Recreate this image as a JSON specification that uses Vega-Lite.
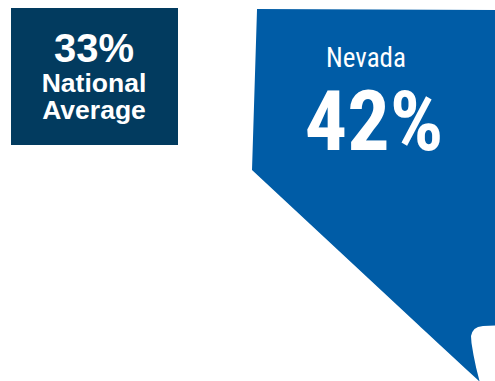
{
  "$schema": "https://vega.github.io/schema/vega-lite/v6.json",
  "width": 495,
  "height": 381,
  "autosize": {"type": "fit", "contains": "padding"},
  "padding": 0,
  "background": "white",
  "view": {"stroke": null},
  "datasets": {
    "badge": [{"name": "National Average", "left": 11, "right": 178, "top": 8, "bottom": 145}],
    "state": [
      {"v": 9, "west": 257, "east": 257},
      {"v": 10, "west": 257, "east": 495},
      {"v": 170, "west": 252, "east": 495},
      {"v": 325.5, "west": 419, "east": 495},
      {"v": 326, "west": 419.5, "east": 483},
      {"v": 327, "west": 420.5, "east": 478},
      {"v": 329, "west": 422.7, "east": 474.5},
      {"v": 332, "west": 426, "east": 472.3},
      {"v": 336, "west": 430.3, "east": 471},
      {"v": 343, "west": 437.8, "east": 471.5},
      {"v": 355, "west": 450.8, "east": 473.5},
      {"v": 368, "west": 464.8, "east": 476.2},
      {"v": 381, "west": 479, "east": 479.5}
    ],
    "headline": [{"text": "33%", "cx": 94, "base": 62}],
    "caption": [
      {"text": "National", "cx": 94, "base": 92},
      {"text": "Average", "cx": 94, "base": 119}
    ],
    "stateName": [{"text": "Nevada", "cx": 366, "base": 67}],
    "stateValue": [{"text": "42%", "cx": 374, "base": 150}]
  },
  "layer": [
    {
      "data": {"name": "badge"},
      "mark": {"type": "rect", "color": "#023b5f"},
      "encoding": {
        "x": {"field": "left", "type": "quantitative", "scale": {"domain": [0, 495], "nice": false, "zero": false}, "axis": null},
        "x2": {"field": "right"},
        "y": {"field": "top", "type": "quantitative", "scale": {"domain": [381, 0], "nice": false, "zero": false}, "axis": null},
        "y2": {"field": "bottom"}
      }
    },
    {
      "data": {"name": "state"},
      "mark": {"type": "area", "orient": "horizontal", "color": "#005ca6", "interpolate": "linear"},
      "encoding": {
        "y": {"field": "v", "type": "quantitative", "axis": null},
        "x": {"field": "west", "type": "quantitative", "axis": null},
        "x2": {"field": "east"}
      }
    },
    {
      "data": {"name": "headline"},
      "mark": {"type": "text", "font": "Liberation Sans", "fontWeight": "bold", "fontSize": 40, "color": "white", "baseline": "alphabetic", "align": "center"},
      "encoding": {
        "x": {"field": "cx", "type": "quantitative", "axis": null},
        "y": {"field": "base", "type": "quantitative", "axis": null},
        "text": {"field": "text"}
      }
    },
    {
      "data": {"name": "caption"},
      "mark": {"type": "text", "font": "Liberation Sans", "fontWeight": "bold", "fontSize": 26.5, "color": "white", "baseline": "alphabetic", "align": "center"},
      "encoding": {
        "x": {"field": "cx", "type": "quantitative", "axis": null},
        "y": {"field": "base", "type": "quantitative", "axis": null},
        "text": {"field": "text"}
      }
    },
    {
      "data": {"name": "stateName"},
      "mark": {"type": "text", "font": "Roboto Condensed", "fontSize": 27, "color": "white", "baseline": "alphabetic", "align": "center"},
      "encoding": {
        "x": {"field": "cx", "type": "quantitative", "axis": null},
        "y": {"field": "base", "type": "quantitative", "axis": null},
        "text": {"field": "text"}
      }
    },
    {
      "data": {"name": "stateValue"},
      "mark": {"type": "text", "font": "Roboto Condensed", "fontWeight": "bold", "fontSize": 84, "color": "white", "baseline": "alphabetic", "align": "center"},
      "encoding": {
        "x": {"field": "cx", "type": "quantitative", "axis": null},
        "y": {"field": "base", "type": "quantitative", "axis": null},
        "text": {"field": "text"}
      }
    }
  ]
}
